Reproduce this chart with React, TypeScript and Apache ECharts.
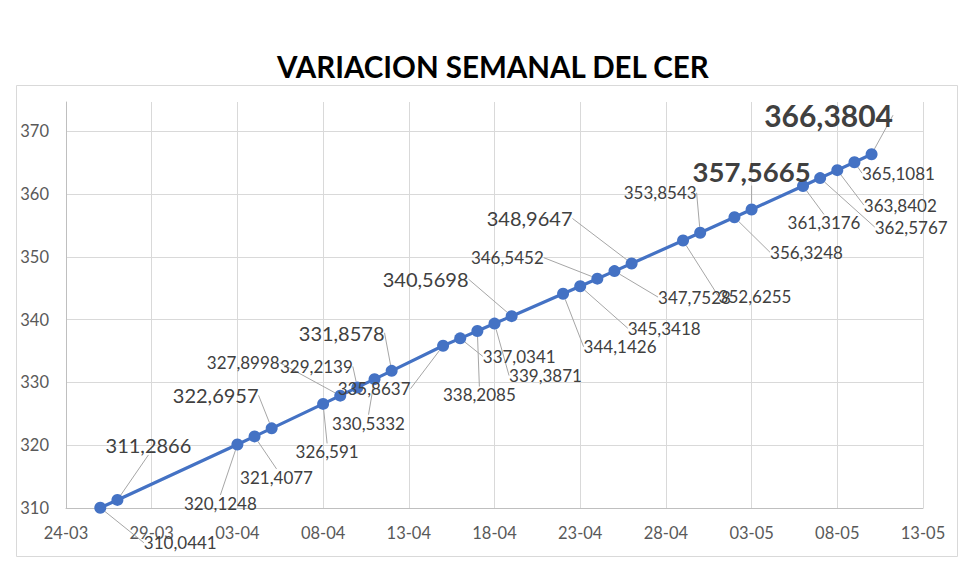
import React, { useEffect, useRef } from "react";
import * as echarts from "echarts";

const TITLE = "VARIACION SEMANAL DEL CER";
const START_DATE = "2024-03-24";
const dates = [
  "2024-03-26", "2024-03-27", "2024-04-03", "2024-04-04", "2024-04-05",
  "2024-04-08", "2024-04-09", "2024-04-10", "2024-04-11", "2024-04-12",
  "2024-04-15", "2024-04-16", "2024-04-17", "2024-04-18", "2024-04-19",
  "2024-04-22", "2024-04-23", "2024-04-24", "2024-04-25", "2024-04-26",
  "2024-04-29", "2024-04-30", "2024-05-02", "2024-05-03", "2024-05-06",
  "2024-05-07", "2024-05-08", "2024-05-09", "2024-05-10",
];
const values = [
  310.0441, 311.2866, 320.1248, 321.4077, 322.6957,
  326.591, 327.8998, 329.2139, 330.5332, 331.8578,
  335.8637, 337.0341, 338.2085, 339.3871, 340.5698,
  344.1426, 345.3418, 346.5452, 347.7528, 348.9647,
  352.6255, 353.8543, 356.3248, 357.5665, 361.3176,
  362.5767, 363.8402, 365.1081, 366.3804,
];
const yTicks = [310, 320, 330, 340, 350, 360, 370];

// label offsets (px) relative to each point, and label emphasis levels
const labelDx = [80, 31, -17, 22, -56, 4, -97, -41, -6, -50, -69, 59, 2, 51, -86, 57, 84, -90, 80, -102, 72, -40, 72, 0, 21, 91, 63, 44, -43];
const labelDy = [35, -55, 59, 41, -33, 48, -33, -21, 44, -38, 43, 18, 64, 52, -37, 53, 42, -21, 26, -45, 56, -40, 35, -38, 37, 49, 35, 11, -39];
const labelLevel = [0, 1, 0, 0, 1, 0, 0, 0, 0, 1, 0, 0, 0, 0, 1, 0, 0, 0, 0, 1, 0, 0, 0, 2, 0, 0, 0, 0, 3];

const FONT = "Lato";
const DAY = 86400000;

function dayOffset(d: string) {
  return Math.round((Date.parse(d + "T00:00:00Z") - Date.parse(START_DATE + "T00:00:00Z")) / DAY);
}

function fmtDay(off: number) {
  const t = new Date(Date.parse(START_DATE + "T00:00:00Z") + off * DAY);
  const dd = String(t.getUTCDate()).padStart(2, "0");
  const mm = String(t.getUTCMonth() + 1).padStart(2, "0");
  return dd + "-" + mm;
}

const levelStyle = [
  { fontSize: 17, fontWeight: "normal" },
  { fontSize: 20, fontWeight: "normal" },
  { fontSize: 27.5, fontWeight: "bold" },
  { fontSize: 30, fontWeight: "bold" },
];

export default function App() {
  const ref = useRef<HTMLDivElement>(null);
  useEffect(() => {
    if (!ref.current) return;
    const chart = echarts.init(ref.current, null, { renderer: "svg" });
    const data = values.map((v, i) => ({
      value: [dayOffset(dates[i]), v],
      label: {
        fontSize: levelStyle[labelLevel[i]].fontSize,
        fontWeight: levelStyle[labelLevel[i]].fontWeight as any,
      },
    }));
    const yMax = 374.7;
    chart.setOption({
      animation: false,
      backgroundColor: "#ffffff",
      title: {
        text: TITLE,
        left: 272,
        top: 46,
        textStyle: { fontFamily: FONT, fontSize: 29.5, fontWeight: "bold", color: "#000000" },
      },
      graphic: [
        {
          type: "rect",
          shape: { x: 16.5, y: 85.5, width: 941, height: 471 },
          style: { fill: "none", stroke: "#d9d9d9", lineWidth: 1 },
          silent: true,
          z: -1,
        },
      ],
      grid: { left: 66, right: 57, top: 102, bottom: 64 },
      xAxis: {
        type: "value",
        min: 0,
        max: 50,
        interval: 5,
        axisLine: { show: true, lineStyle: { color: "#bfbfbf", width: 1 } },
        axisTick: { show: false },
        axisLabel: {
          formatter: (v: number) => fmtDay(v),
          fontFamily: FONT,
          fontSize: 16.5,
          color: "#595959",
          margin: 16,
        },
        splitLine: { show: true, lineStyle: { color: "#d9d9d9", width: 1 } },
      },
      yAxis: {
        type: "value",
        min: yTicks[0],
        max: yMax,
        interval: 10,
        axisLine: { show: true, lineStyle: { color: "#bfbfbf", width: 1 } },
        axisTick: { show: false },
        axisLabel: {
          formatter: (v: number) => (yTicks.indexOf(v) >= 0 ? String(v) : ""),
          fontFamily: FONT,
          fontSize: 16.5,
          color: "#595959",
          margin: 17,
          showMaxLabel: false,
        },
        splitLine: {
          show: true,
          lineStyle: {
            color: ["#d9d9d9", "#d9d9d9", "#d9d9d9", "#d9d9d9", "#d9d9d9", "#d9d9d9", "#d9d9d9", "rgba(0,0,0,0)"],
            width: 1,
          },
        },
      },
      series: [
        {
          type: "line",
          data,
          symbol: "circle",
          symbolSize: 12,
          lineStyle: { color: "#4472C4", width: 3.2 },
          itemStyle: { color: "#4472C4" },
          label: {
            show: true,
            position: "inside",
            formatter: (p: any) => String(p.value[1]).replace(".", ","),
            fontFamily: FONT,
            fontSize: 17,
            color: "#404040",
          },
          labelLine: { show: true, lineStyle: { color: "#a6a6a6", width: 1 } },
          labelLayout: (params: any) => ({
            dx: labelDx[params.dataIndex],
            dy: labelDy[params.dataIndex],
            hideOverlap: false,
          }),
        },
      ],
    });
    return () => chart.dispose();
  }, []);
  return (
    <div
      ref={ref}
      style={{ position: "fixed", left: 0, top: 0, width: 980, height: 572 }}
    />
  );
}
